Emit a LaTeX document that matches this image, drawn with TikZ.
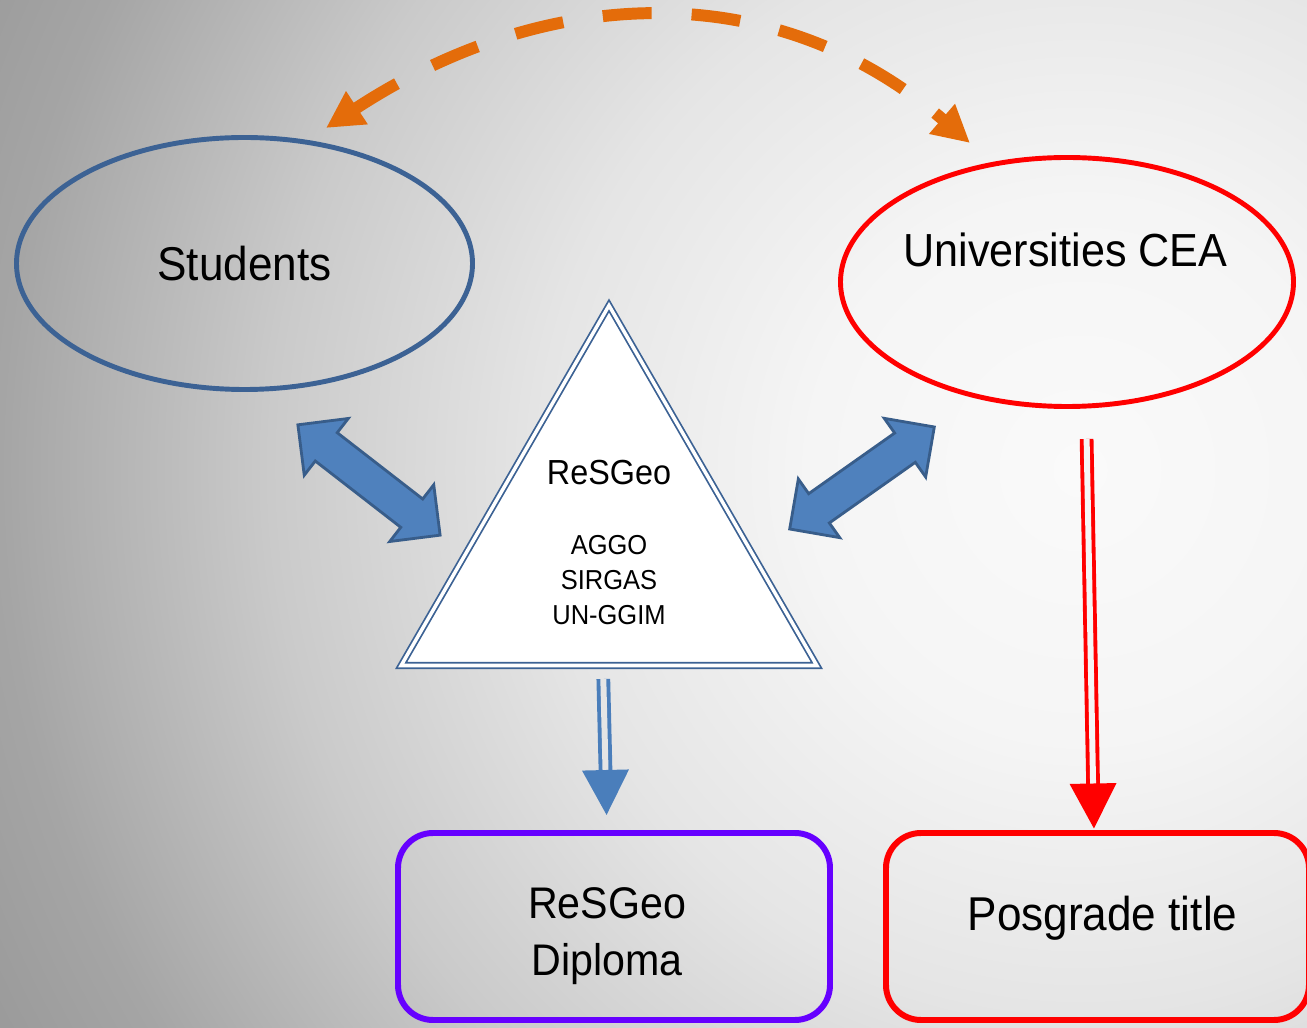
\documentclass[tikz,border=0pt]{standalone}
\usepackage{fontspec}
\setmainfont{Liberation Sans}[FakeStretch=0.93]
\usetikzlibrary{arrows.meta, positioning, shapes.geometric, shapes.arrows}

\definecolor{stuBlue}{RGB}{60,98,148}
\definecolor{arrFill}{RGB}{79,129,189}
\definecolor{arrLine}{RGB}{56,93,138}
\definecolor{downBlue}{RGB}{74,126,187}
\definecolor{arcOrange}{RGB}{228,108,10}
\definecolor{dipPurple}{RGB}{102,0,255}
\definecolor{bgA}{RGB}{250,250,250}
\definecolor{bgB}{RGB}{245,245,245}
\definecolor{bgC}{RGB}{229,229,229}
\definecolor{bgD}{RGB}{202,202,202}
\definecolor{bgE}{RGB}{165,165,165}
\definecolor{bgF}{RGB}{148,148,148}
\definecolor{bgG}{RGB}{140,140,140}

\pgfdeclareradialshading{bgGlow}{\pgfpoint{0bp}{0bp}}{color(0bp)=(bgA); color(4.5bp)=(bgB); color(9bp)=(bgC); color(13.5bp)=(bgD); color(18bp)=(bgE); color(21.67bp)=(bgF); color(25bp)=(bgG); color(50bp)=(bgG)}

\begin{document}
\begin{tikzpicture}[
	every node/.style={inner sep=0pt, outer sep=0pt},
	oval/.style={ellipse, draw, line width=1.4pt},
	fatArrow/.style={double arrow, draw=arrLine, fill=arrFill, line width=0.8pt,
		inner sep=0.165cm, minimum height=1.8cm, minimum width=0.69cm,
		double arrow head extend=0.18cm},
	result/.style={draw, rounded corners=0.35cm, line width=1.7pt, minimum height=1.87cm},
	resultText/.style={align=center, font=\fontsize{12.6}{16.2}\selectfont},
	downArrow/.style={double, double distance=1.7pt, line width=1.1pt,
		-{Triangle[length=4.5mm, width=4.6mm]}},
	]
	\useasboundingbox (0,0) rectangle (13.07,10.27);
	\begin{scope}
		\clip (0,0) rectangle (13.07,10.27);
		\shade[shading=bgGlow] (10.8,5.57) circle (15cm);
	\end{scope}

	% the two ovals
	\node[oval, draw=stuBlue, minimum width=4.56cm, minimum height=2.52cm,
		font=\fontsize{13.5}{15}\selectfont] (stu) at (2.445,7.635) {Students};
	\node[oval, draw=red, minimum width=4.53cm, minimum height=2.49cm] (uni) at (10.67,7.45) {};
	\node[font=\fontsize{13.2}{15}\selectfont] (uniText) at (10.655,7.77) {Universities CEA};

	% triangle in the middle
	\node[regular polygon, regular polygon sides=3, draw=stuBlue, fill=white,
		double, double distance=1pt, line width=0.5pt, minimum size=4.8cm] (tri) at (6.09,4.815) {};
	\node[font=\fontsize{9.9}{11}\selectfont] (triTitle) at ([yshift=7.25mm]tri.center) {ReSGeo};
	\node[font=\fontsize{7.8}{10}\selectfont, align=center, below=5mm of triTitle] (triList) {AGGO\\SIRGAS\\UN-GGIM};

	% block arrows
	\node[fatArrow, rotate=-37.8] (stuLink) at (3.69,5.47) {};
	\node[fatArrow, rotate=35.2, minimum height=1.77cm] (uniLink) at (8.62,5.49) {};

	% boxes at the bottom
	\node[result, draw=dipPurple, minimum width=4.32cm] (dip) at (6.14,1.005) {};
	\node[resultText] (dipText) at ([xshift=-0.7mm, yshift=-1mm]dip.center) {ReSGeo\\Diploma};
	\node[result, draw=red, minimum width=4.23cm] (pos) at (10.975,1.005) {};
	\node[resultText, font=\fontsize{13.5}{16}\selectfont] (posText) at ([xshift=0.5mm, yshift=0.8mm]pos.center) {Posgrade title};

	\draw[downArrow, downBlue, double=bgC, shorten <=1.35mm, shorten >=1.8mm]
		([xshift=-0.6mm]tri.south) -- ([xshift=-0.7mm]dip.north);
	\draw[downArrow, red, double=bgB, shorten <=3.25mm, shorten >=0.45mm]
		([xshift=1.9mm]uni.south) -- ([xshift=-0.35mm]pos.north);

	% dashed arc on top
	\coordinate (arcL) at (3.26,8.99);
	\coordinate (arcR) at (9.70,8.84);
	\draw[arcOrange, line width=3.4pt, dash pattern=on 4.9mm off 4mm,
		{Triangle[length=3.7mm, width=3.7mm]}-{Triangle[length=3.7mm, width=3.7mm]}]
		(arcL) .. controls (5.434,10.417) and (7.732,10.538) .. (arcR);

\end{tikzpicture}
\end{document}
